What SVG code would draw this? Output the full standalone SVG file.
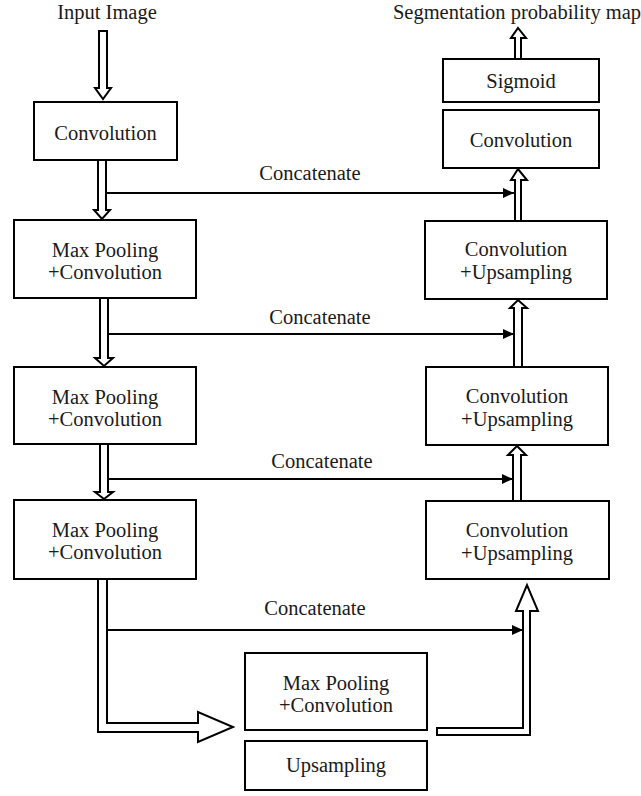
<svg xmlns="http://www.w3.org/2000/svg" width="641" height="796" viewBox="0 0 641 796" font-family="Liberation Serif, serif">
<style>
.box{fill:#fff;stroke:#000;stroke-width:2}
text{font-family:'Liberation Serif',serif;font-size:20.5px;fill:#1a1a1a;text-anchor:middle}
.dbl{fill:#fff;stroke:#000;stroke-width:2;stroke-linejoin:miter}
.cl{fill:none;stroke:#000;stroke-width:2}
</style>
<defs>
<marker id="ah" markerUnits="userSpaceOnUse" markerWidth="12" markerHeight="12" viewBox="0 0 12 12" refX="11" refY="6" orient="auto">
<path d="M0,1 L11,6 L0,11 Z" fill="#000"/>
</marker>
</defs>
<rect width="641" height="796" fill="#fff"/>
<text x="107" y="19">Input Image</text>
<text x="517" y="19">Segmentation probability map</text>
<g id="connectors">
<polygon class="dbl" points="99,31 107,31 107,88 111,88 103,99 95,88 99,88"/>
<polygon class="dbl" points="98,160 106,160 106,210 110,210 102,219 94,210 98,210"/>
<polygon class="dbl" points="100,298 108,298 108,358 113,358 104,366 95,358 100,358"/>
<polygon class="dbl" points="100,444 108,444 108,492 113,492 104,499 95,492 100,492"/>
<polygon class="dbl" points="98,579 98,732 198,732 198,742 233,727 198,712 198,723 107,723 107,579"/>
<polygon class="dbl" points="515,59 515,38 511,38 518,28 526,38 521,38 521,59"/>
<polygon class="dbl" points="515,221 515,180 511,180 518,169 527,180 521,180 521,221"/>
<polygon class="dbl" points="514,367 514,308 510,308 518,300 527,308 522,308 522,367"/>
<polygon class="dbl" points="513,501 513,455 508,455 517,446 526,455 521,455 521,501"/>
<polygon class="dbl" points="437,728 523,728 523,611 516,611 527,585 538,611 530,611 530,735 437,735"/>
<line class="cl" x1="106" y1="193" x2="514" y2="193" marker-end="url(#ah)"/>
<line class="cl" x1="108" y1="334" x2="514" y2="334" marker-end="url(#ah)"/>
<line class="cl" x1="108" y1="479" x2="513" y2="479" marker-end="url(#ah)"/>
<line class="cl" x1="107" y1="630" x2="523" y2="630" marker-end="url(#ah)"/>
<text x="310" y="180">Concatenate</text>
<text x="320" y="324">Concatenate</text>
<text x="322" y="468">Concatenate</text>
<text x="315" y="615">Concatenate</text>
</g>
<g id="conv1"><rect class="box" x="34" y="102" width="143" height="58"/><text x="105.5" y="140">Convolution</text></g>
<g id="mp1"><rect class="box" x="14" y="220" width="182" height="78"/><text x="105" y="257">Max Pooling</text><text x="105" y="279">+Convolution</text></g>
<g id="mp2"><rect class="box" x="14" y="367" width="182" height="77"/><text x="105" y="404">Max Pooling</text><text x="105" y="426">+Convolution</text></g>
<g id="mp3"><rect class="box" x="14" y="500" width="182" height="79"/><text x="105" y="537">Max Pooling</text><text x="105" y="559">+Convolution</text></g>
<g id="mp4"><rect class="box" x="245" y="653" width="182" height="77"/><text x="336" y="690">Max Pooling</text><text x="336" y="712">+Convolution</text></g>
<g id="up"><rect class="box" x="245" y="741" width="182" height="49"/><text x="336" y="772">Upsampling</text></g>
<g id="cu3"><rect class="box" x="426" y="501" width="183" height="78"/><text x="517" y="537">Convolution</text><text x="517" y="560">+Upsampling</text></g>
<g id="cu2"><rect class="box" x="426" y="367" width="182" height="78"/><text x="517" y="403">Convolution</text><text x="517" y="426">+Upsampling</text></g>
<g id="cu1"><rect class="box" x="425" y="221" width="182" height="78"/><text x="516" y="256">Convolution</text><text x="516" y="279">+Upsampling</text></g>
<g id="conv2"><rect class="box" x="443" y="110" width="156" height="58"/><text x="521" y="147">Convolution</text></g>
<g id="sigmoid"><rect class="box" x="443" y="59" width="156" height="43"/><text x="521" y="88">Sigmoid</text></g>
</svg>
